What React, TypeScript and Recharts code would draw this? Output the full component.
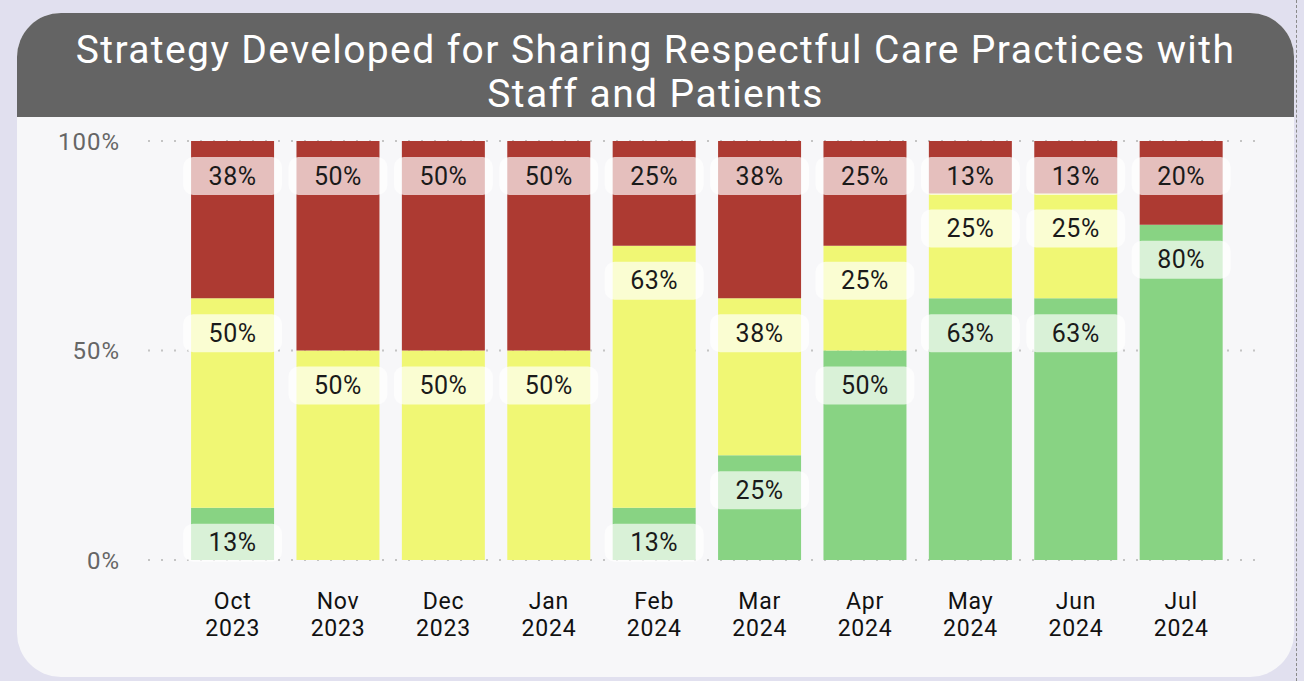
import React from 'react';
import { BarChart, Bar, XAxis, YAxis, CartesianGrid, LabelList } from 'recharts';

// months shown on the x axis (two-line labels)
const months = ['Oct', 'Nov', 'Dec', 'Jan', 'Feb', 'Mar', 'Apr', 'May', 'Jun', 'Jul'];
const years = ['2023', '2023', '2023', '2024', '2024', '2024', '2024', '2024', '2024', '2024'];

// share of responses per month (%)
const greenValues = [12.5, 0, 0, 0, 12.5, 25, 50, 62.5, 62.5, 80];
const yellowValues = [50, 50, 50, 50, 62.5, 37.5, 25, 25, 25, 0];
const redValues = [37.5, 50, 50, 50, 25, 37.5, 25, 12.5, 12.5, 20];

const yTicks = [0, 50, 100];

const COLORS = {
  green: '#88d383',
  yellow: '#f0f774',
  red: '#ad3a32',
};

const FONT = 'Roboto, "DejaVu Sans", sans-serif';

const data = months.map((m, i) => ({
  key: `${m} ${years[i]}`,
  month: m,
  year: years[i],
  green: greenValues[i],
  yellow: yellowValues[i],
  red: redValues[i],
}));

function SegmentLabel(props: any) {
  const { x, y, width, value } = props;
  if (!value) return null;
  const cx = x + width / 2;
  return (
    <g>
      <rect
        x={x - 8}
        y={y + 16}
        width={width + 16}
        height={38}
        rx={10}
        fill="#ffffff"
        fillOpacity={0.68}
      />
      <text
        x={cx}
        y={y + 37}
        textAnchor="middle"
        dominantBaseline="middle"
        fontFamily={FONT}
        fontSize={25}
        letterSpacing={0.5}
        fill="#1a1a1a"
      >
        {`${Math.round(value)}%`}
      </text>
    </g>
  );
}

function MonthTick(props: any) {
  const { x, y, payload } = props;
  const [m, yr] = String(payload.value).split(' ');
  return (
    <g transform={`translate(${x},${y})`}>
      <text textAnchor="middle" fontFamily={FONT} fontSize={23} letterSpacing={0.8} fill="#111">
        <tspan x={0} dy={41}>{m}</tspan>
        <tspan x={0} dy={27}>{yr}</tspan>
      </text>
    </g>
  );
}

export default function App() {
  return (
    <div
      style={{
        position: 'fixed',
        left: 0,
        top: 0,
        width: 1304,
        height: 681,
        background: '#e1e0ef',
        overflow: 'hidden',
      }}
    >
      {/* card */}
      <div
        style={{
          position: 'absolute',
          left: 17,
          top: 13,
          width: 1277,
          height: 664,
          background: '#f7f7f9',
          borderRadius: 44,
          overflow: 'hidden',
        }}
      >
        <div
          style={{
            height: 104,
            background: '#646464',
            color: '#ffffff',
            fontFamily: FONT,
            fontSize: 39,
            letterSpacing: 1.4,
            lineHeight: '44px',
            textAlign: 'center',
            paddingTop: 15,
            boxSizing: 'border-box',
          }}
        >
          Strategy Developed for Sharing Respectful Care Practices with
          <br />
          Staff and Patients
        </div>
      </div>
      <div
        style={{
          position: 'absolute',
          left: 1296,
          top: 0,
          height: 681,
          borderLeft: '1px dashed #8a8a8a',
        }}
      />
      <div style={{ position: 'absolute', left: 0, top: 0 }}>
        <BarChart
          width={1304}
          height={681}
          data={data}
          margin={{ top: 141, right: 47, bottom: 91, left: 48 }}
          barCategoryGap="10.5%"
        >
          <CartesianGrid
            vertical={false}
            stroke="#c4c4c4"
            strokeWidth={2}
            strokeDasharray="2 11"
          />
          <XAxis
            dataKey="key"
            axisLine={false}
            tickLine={false}
            interval={0}
            padding={{ left: 32, right: 23 }}
            tick={<MonthTick />}
          />
          <YAxis
            width={100}
            domain={[0, 100]}
            ticks={yTicks}
            axisLine={false}
            tickLine={false}
            tickMargin={22}
            tickFormatter={(v: number) => `${v}%`}
            tick={{ fontFamily: FONT, fontSize: 24, fill: '#666', letterSpacing: 1 }}
          />
          <Bar dataKey="green" stackId="a" fill={COLORS.green} isAnimationActive={false}>
            <LabelList dataKey="green" content={<SegmentLabel />} />
          </Bar>
          <Bar dataKey="yellow" stackId="a" fill={COLORS.yellow} isAnimationActive={false}>
            <LabelList dataKey="yellow" content={<SegmentLabel />} />
          </Bar>
          <Bar dataKey="red" stackId="a" fill={COLORS.red} isAnimationActive={false}>
            <LabelList dataKey="red" content={<SegmentLabel />} />
          </Bar>
        </BarChart>
      </div>
    </div>
  );
}
